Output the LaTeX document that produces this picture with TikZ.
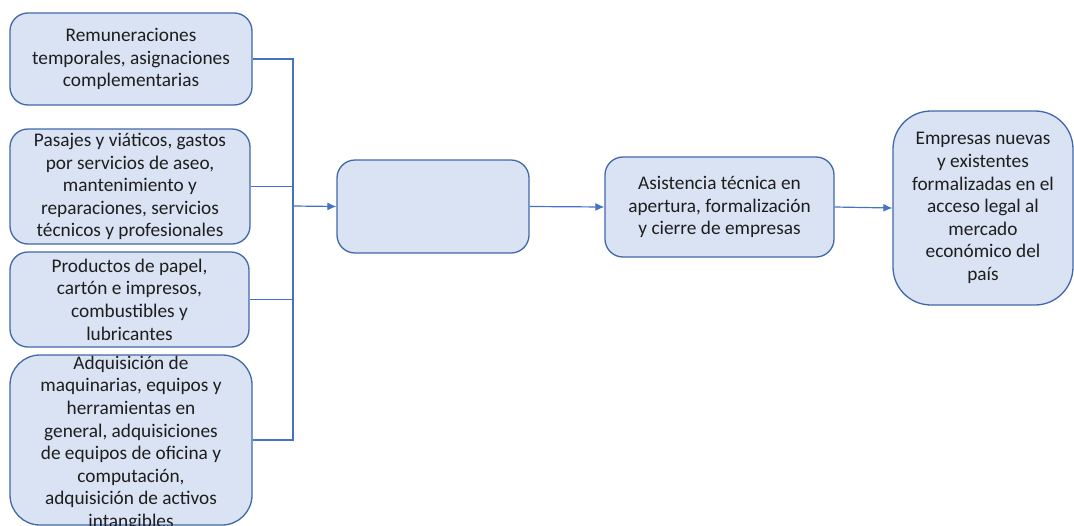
\documentclass[tikz,border=0pt]{standalone}
\usepackage{fontspec}
\setmainfont{Carlito}
\usepackage{tikz}
\usetikzlibrary{arrows.meta,positioning,calc}
\definecolor{boxfill}{RGB}{218,227,243}
\definecolor{boxline}{RGB}{65,104,168}
\definecolor{wire}{RGB}{68,114,196}
\definecolor{ink}{RGB}{30,30,30}
\tikzset{
	box/.style={draw=boxline, fill=boxfill, line width=1.3pt, rounded corners=#1,
		inner sep=0pt, align=center, text=ink,
		font=\fontsize{19.3}{22.6}\selectfont},
	box/.default=18pt,
	wire/.style={draw=wire, line width=1.2pt},
}

\begin{document}
\begin{tikzpicture}[x=1pt, y=-1pt, >={Latex[length=9pt,width=8pt]}]
\useasboundingbox (0,0) rectangle (1074,525);
\clip (0,0) rectangle (1074,525);
% the boxes on the left
\node[box, minimum width=242pt, minimum height=92pt] at (131,59) (rem)
	{Remuneraciones\\temporales, asignaciones\\complementarias};
\node[box, minimum width=240pt, minimum height=115pt] at (130,186.5) (pas)
	{Pasajes y viáticos, gastos\\por servicios de aseo,\\mantenimiento y\\reparaciones, servicios\\técnicos y profesionales};
\node[box, minimum width=239pt, minimum height=95pt] at (129.5,299.5) (prod)
	{Productos de papel,\\cartón e impresos,\\combustibles y\\lubricantes};
\node[box=30pt, minimum width=242pt, minimum height=170pt] at (131,440) (adq)
	{\raisebox{-17pt}{\smash{\parbox[c]{240pt}{\centering Adquisición de\\maquinarias, equipos y\\herramientas en\\general, adquisiciones\\de equipos de oficina y\\computación,\\adquisición de activos\\intangibles}}}};

% the chain
\node[box, minimum width=192pt, minimum height=93pt] at (433,206.5) (mid) {};
\node[box, minimum width=229pt, minimum height=100pt] at (719.5,207) (asis)
	{Asistencia técnica en\\apertura, formalización\\y cierre de empresas};
\node[box=38pt, minimum width=180pt, minimum height=194pt] at (983,208) (emp)
	{Empresas nuevas\\y existentes\\formalizadas en el\\acceso legal al\\mercado\\económico del\\país};

% the arrows
\coordinate (join) at (293,206);
\draw[wire] (rem.east) -| (join);
\draw[wire] (pas.east) -| (join);
\draw[wire] (prod.east) -| (join);
\draw[wire] (adq.east) -| (join);
\draw[wire,->] (join) -- (mid.west);
\draw[wire,->] (mid.east) -- (asis.west);
\draw[wire,->] (asis.east) -- (emp.west);
\end{tikzpicture}
\end{document}
